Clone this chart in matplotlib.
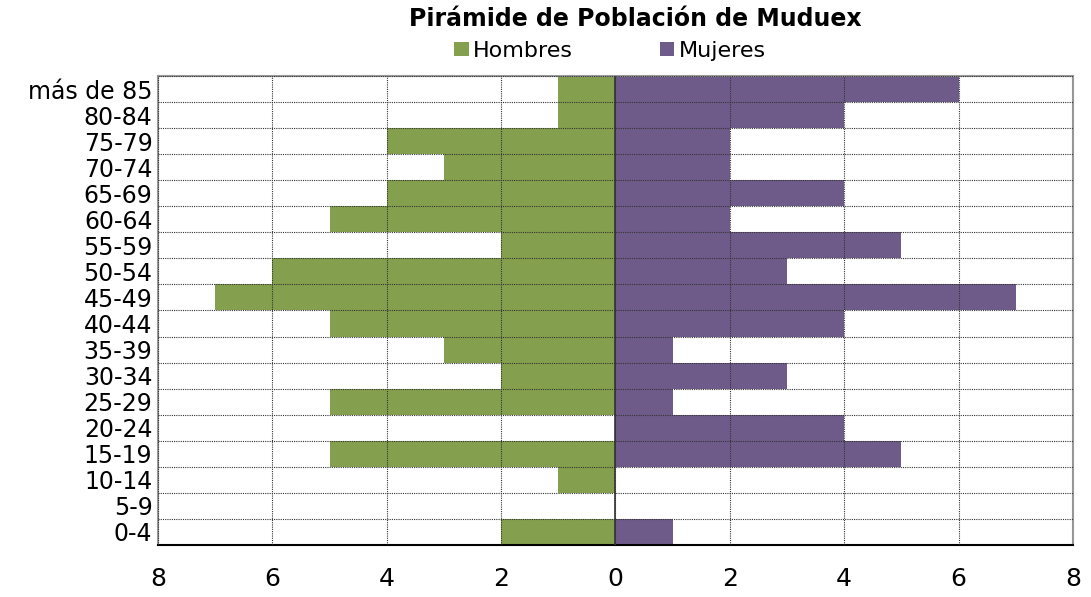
import numpy as np
import matplotlib.pyplot as plt
from matplotlib.ticker import FixedLocator, FuncFormatter
from matplotlib.patches import Patch

# Age groups from top to bottom as shown in the chart
age_groups = ['más de 85', '80-84', '75-79', '70-74', '65-69', '60-64', '55-59',
              '50-54', '45-49', '40-44', '35-39', '30-34', '25-29', '20-24',
              '15-19', '10-14', '5-9', '0-4']
hombres = [1, 1, 4, 3, 4, 5, 2, 6, 7, 5, 3, 2, 5, 0, 5, 1, 0, 2]
mujeres = [6, 4, 2, 2, 4, 2, 5, 3, 7, 4, 1, 3, 1, 4, 5, 0, 0, 1]

green = '#84A04E'
purple = '#6F5B8A'

plt.rcParams['font.family'] = ['DejaVu Sans']

fig = plt.figure(figsize=(10.91, 5.97), dpi=100)
ax = fig.add_axes([0.1448, 0.0871, 0.8387, 0.7856])

y = np.arange(len(age_groups))[::-1]
ax.barh(y, -np.array(hombres), height=1.0, color=green, zorder=1)
ax.barh(y, mujeres, height=1.0, color=purple, zorder=1)

ax.set_xlim(-8, 8)
ax.set_ylim(-0.5, len(age_groups) - 0.5)
ax.set_xticks(np.arange(-8, 9, 2))
ax.xaxis.set_major_formatter(FuncFormatter(lambda v, p: f'{abs(int(v))}'))
ax.set_yticks(y)
ax.set_yticklabels(age_groups)
ax.yaxis.set_minor_locator(FixedLocator(np.arange(-0.5, len(age_groups), 1)))

ax.tick_params(axis='both', which='both', length=0)
ax.tick_params(axis='x', labelsize=18, pad=16)
ax.tick_params(axis='y', labelsize=17, pad=4)

# dotted grid drawn over the bars
ax.grid(True, axis='x', which='major', color='#333333', linestyle=(0, (1, 1)), linewidth=0.8, zorder=3)
ax.grid(True, axis='y', which='minor', color='#333333', linestyle=(0, (1, 1)), linewidth=0.8, zorder=3)
ax.grid(False, axis='y', which='major')
ax.set_axisbelow(False)
ax.axvline(0, color='#333333', linewidth=1.2, zorder=4)

for side in ['left', 'top', 'right']:
    ax.spines[side].set_color('#999999')
    ax.spines[side].set_linewidth(1.5)
ax.spines['bottom'].set_color('black')
ax.spines['bottom'].set_linewidth(1.5)

fig.text(0.582, 0.968, 'Pirámide de Población de Muduex', ha='center', va='center',
         fontsize=17, fontweight='bold')
handles = [Patch(facecolor=green, label='Hombres'), Patch(facecolor=purple, label='Mujeres')]
fig.legend(handles=handles, loc='center', bbox_to_anchor=(0.559, 0.915), ncol=2,
           frameon=False, fontsize=16, handlelength=0.65, handleheight=0.65,
           handletextpad=0.2, columnspacing=3.9, borderaxespad=0)

fig.savefig('out.png', dpi=100)
